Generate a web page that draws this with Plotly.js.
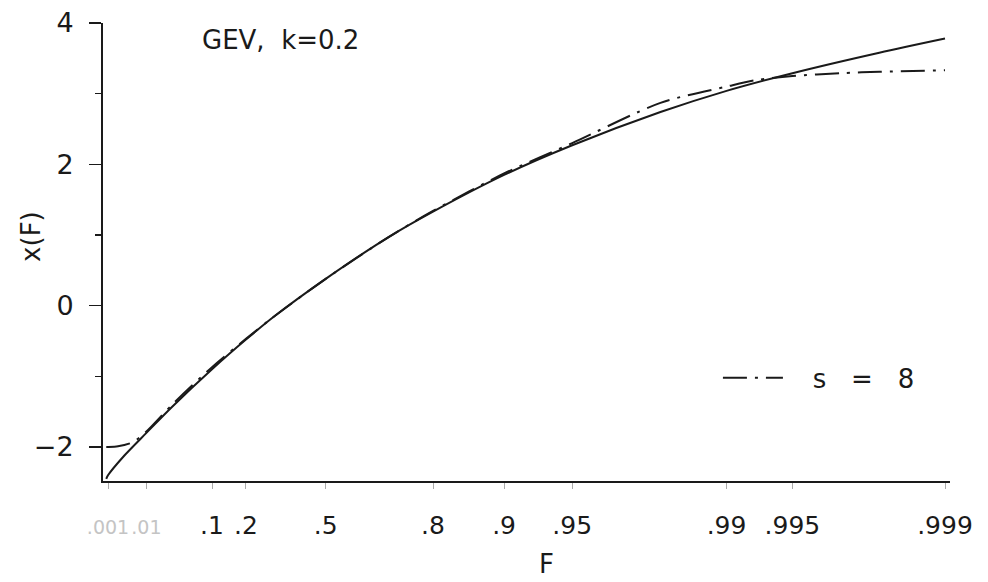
<!DOCTYPE html>
<html>
<head>
<meta charset="utf-8">
<script src="https://cdn.plot.ly/plotly-3.0.1.min.js"></script>
<style>html,body{margin:0;padding:0;background:#fff;}#chart{width:988px;height:582px;}</style>
</head>
<body>
<div id="chart"></div>
<script>
// Non-exceedance probabilities F at which the curves were read
var probGEV = [0.00088, 0.001, 0.003, 0.01, 0.03, 0.1, 0.2, 0.3, 0.5, 0.7, 0.8, 0.9, 0.95, 0.98, 0.99, 0.995, 0.998, 0.999];
// Solid curve: GEV quantile, k = 0.2
var quantGEV = [-2.45, -2.40, -2.12, -1.80, -1.43, -0.90, -0.48, -0.16, 0.38, 0.97, 1.33, 1.85, 2.27, 2.74, 3.04, 3.29, 3.58, 3.78];

var probS8 = [0.00088, 0.001, 0.002, 0.005, 0.01, 0.03, 0.1, 0.2, 0.3, 0.5, 0.7, 0.8, 0.9, 0.95, 0.98, 0.99, 0.9926, 0.995, 0.997, 0.998, 0.999];
// Dash-dot curve: approximation with s = 8
var quantS8 = [-2.00, -2.00, -1.99, -1.93, -1.78, -1.40, -0.87, -0.47, -0.16, 0.38, 0.97, 1.34, 1.87, 2.30, 2.87, 3.10, 3.19, 3.25, 3.29, 3.31, 3.33];

// Probability-axis ticks
var tickProbs = [0.001, 0.01, 0.1, 0.2, 0.5, 0.8, 0.9, 0.95, 0.99, 0.995, 0.999];
var tickLabels = ['.001', '.01', '.1', '.2', '.5', '.8', '.9', '.95', '.99', '.995', '.999'];

// Gumbel (extreme-value) probability scale
function gumbel(F) { return -Math.log(-Math.log(F)); }

var faint = {'.001': true, '.01': true};
var tickText = tickLabels.map(function (t) {
  return faint[t] ? '<span style="fill:#c4c4c4;font-size:19px">' + t + '</span>' : t;
});

var FONT = 'DejaVu Sans, Liberation Sans, sans-serif';
var INK = '#1a1a1a';
var SP = '\u00a0';

var traces = [
  {
    x: probGEV.map(gumbel), y: quantGEV, type: 'scatter', mode: 'lines',
    line: {color: INK, width: 2, shape: 'spline', smoothing: 0.8},
    showlegend: false, hoverinfo: 'skip'
  },
  {
    x: probS8.map(gumbel), y: quantS8, type: 'scatter', mode: 'lines',
    name: SP + SP + SP + 's' + SP + SP + SP + '=' + SP + SP + SP + '8',
    line: {color: INK, width: 2, shape: 'spline', smoothing: 0.8, dash: '24px,8px,3px,8px'},
    showlegend: true, hoverinfo: 'skip'
  }
];

var xmin = gumbel(0.001) - 5 / 94.7;
var xmax = gumbel(0.999) + 5 / 94.7;

var layout = {
  width: 988, height: 582,
  margin: {l: 103, r: 38, t: 23, b: 101},
  paper_bgcolor: '#fff', plot_bgcolor: '#fff',
  font: {family: FONT, color: INK, size: 26},
  showlegend: true,
  legend: {
    x: 0.726, y: 0.225, xanchor: 'left', yanchor: 'middle',
    bgcolor: 'rgba(0,0,0,0)', font: {family: FONT, size: 26, color: INK},
    itemwidth: 60
  },
  xaxis: {
    type: 'linear', range: [xmin, xmax],
    tickmode: 'array', tickvals: tickProbs.map(gumbel), ticktext: tickText,
    ticks: 'outside', ticklen: 6, tickwidth: 1, tickcolor: '#aaa',
    showline: true, linecolor: INK, linewidth: 2,
    showgrid: false, zeroline: false,
    tickfont: {family: FONT, size: 25, color: INK},
    ticklabelstandoff: 15,
    fixedrange: true
  },
  yaxis: {
    range: [-2.481, 4],
    tickmode: 'array', tickvals: [-2, 0, 2, 4], ticktext: ['\u22122', '0', '2', '4'],
    ticks: 'outside', ticklen: 12, tickwidth: 1.5, tickcolor: INK,
    minor: {tickvals: [-1, 1, 3], ticks: 'outside', ticklen: 6, tickwidth: 1.5, tickcolor: INK},
    showline: true, linecolor: INK, linewidth: 2,
    showgrid: false, zeroline: false,
    tickfont: {family: FONT, size: 27, color: INK},
    ticklabelstandoff: 10,
    fixedrange: true
  },
  annotations: [
    {text: 'GEV, \u00a0k=0.2', xref: 'paper', yref: 'paper', x: 0.21, y: 0.963,
     xanchor: 'center', yanchor: 'middle', showarrow: false,
     font: {family: FONT, size: 26, color: INK}},
    {text: 'x(F)', xref: 'paper', yref: 'paper', x: -0.085, y: 0.533, textangle: -90,
     xanchor: 'center', yanchor: 'middle', showarrow: false,
     font: {family: FONT, size: 26, color: INK}},
    {text: 'F', xref: 'paper', yref: 'paper', x: 0.524, y: -0.181,
     xanchor: 'center', yanchor: 'middle', showarrow: false,
     font: {family: FONT, size: 26, color: INK}}
  ]
};

Plotly.newPlot('chart', traces, layout, {staticPlot: true, displayModeBar: false});
</script>
</body>
</html>
